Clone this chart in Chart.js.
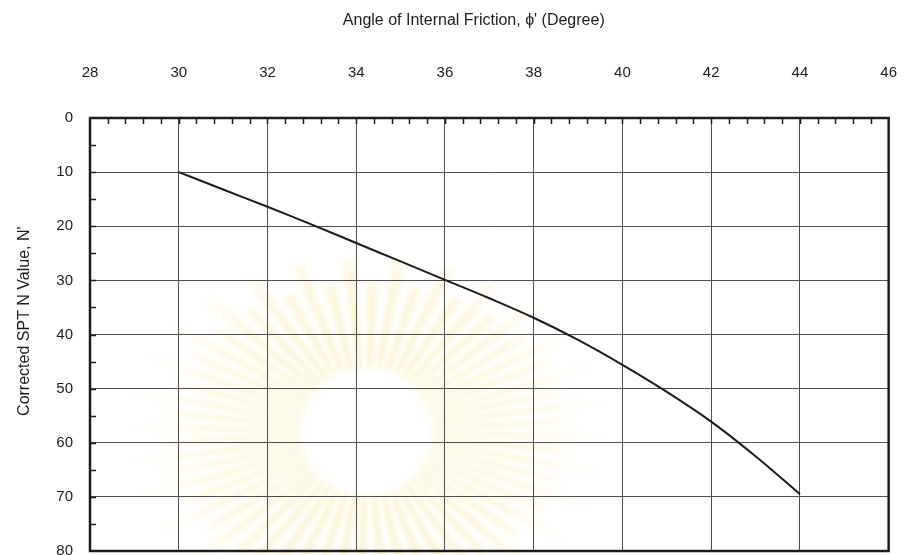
<!DOCTYPE html>
<html>
<head>
<meta charset="utf-8">
<script src="https://cdn.jsdelivr.net/npm/chart.js@4/dist/chart.umd.min.js"></script>
<style>
  html, body { margin: 0; padding: 0; background: #fff; overflow: hidden; }
  #wrap { position: relative; width: 933px; height: 577px; }
</style>
</head>
<body>
<div id="wrap"><canvas id="chart"></canvas></div>
<script>
// curve: angle of internal friction vs corrected SPT N
const angleDeg = [30, 31, 32, 33, 34, 35, 36, 37, 38, 39, 40, 41, 42, 43, 44];
const nValue = [10, 13.2, 16.4, 19.7, 23.1, 26.5, 29.9, 33.3, 36.9, 41, 45.6, 50.6, 56.1, 62.5, 69.5];

const xMin = 28, xMax = 46, xStep = 2, xMinorStep = 0.4;
const yMin = 0, yMax = 80, yStep = 10, yMinorStep = 5;

// trailing / leading spaces nudge the centred titles like the scan
const xTitle = "Angle of Internal Friction, \u03d5' (Degree)       ";
const yTitle = "      Corrected SPT N Value, N'";

const inkColor = '#1c1c1c';
const gridColor = '#4e4e4e';

// faint sunburst watermark behind the plot
const watermark = {
    id: 'watermark',
    beforeDraw(chart) {
        const ctx = chart.ctx;
        const cx = 367, cy = 432;
        const rx = 245, ry = 175;
        ctx.save();
        ctx.filter = 'blur(2.5px)';
        const rays = 60;
        for (let i = 0; i < rays; i++) {
            const a0 = (i / rays) * Math.PI * 2;
            const a1 = a0 + (Math.PI * 2 / rays) * 0.55;
            const len = i % 2 ? 0.85 : 1;
            const g = ctx.createRadialGradient(cx, cy, 55, cx, cy, rx);
            g.addColorStop(0, 'rgba(246, 224, 140, 0.45)');
            g.addColorStop(0.55, 'rgba(248, 230, 160, 0.3)');
            g.addColorStop(1, 'rgba(255, 245, 210, 0)');
            ctx.fillStyle = g;
            ctx.beginPath();
            ctx.moveTo(cx, cy);
            ctx.lineTo(cx + Math.cos(a0) * rx * len, cy + Math.sin(a0) * ry * len);
            ctx.lineTo(cx + Math.cos(a1) * rx * len, cy + Math.sin(a1) * ry * len);
            ctx.closePath();
            ctx.fill();
        }
        ctx.filter = 'blur(4px)';
        ctx.fillStyle = '#fff';
        ctx.beginPath();
        ctx.ellipse(cx, cy, 66, 64, 0, 0, Math.PI * 2);
        ctx.fill();
        ctx.restore();
    }
};

// frame and inward minor ticks
const frame = {
    id: 'frame',
    afterDatasetsDraw(chart) {
        const ctx = chart.ctx;
        const area = chart.chartArea;
        const xs = chart.scales.x, ys = chart.scales.y;
        ctx.save();
        ctx.strokeStyle = inkColor;
        ctx.lineWidth = 1.5;
        const nx = Math.round((xMax - xMin) / xMinorStep);
        ctx.beginPath();
        for (let i = 1; i < nx; i++) {
            const px = Math.round(xs.getPixelForValue(xMin + i * xMinorStep)) + 0.5;
            ctx.moveTo(px, area.top);
            ctx.lineTo(px, area.top + 6);
        }
        const ny = Math.round((yMax - yMin) / yMinorStep);
        for (let i = 1; i < ny; i++) {
            const py = Math.round(ys.getPixelForValue(yMin + i * yMinorStep)) + 0.5;
            ctx.moveTo(area.left, py);
            ctx.lineTo(area.left + 6, py);
        }
        ctx.stroke();
        ctx.lineWidth = 2.5;
        ctx.strokeRect(area.left, area.top, area.right - area.left, area.bottom - area.top);
        ctx.restore();
    }
};

const ctx = document.getElementById('chart').getContext('2d');
new Chart(ctx, {
    type: 'line',
    data: {
        datasets: [{
            label: 'N',
            data: angleDeg.map((a, i) => ({ x: a, y: nValue[i] })),
            borderColor: inkColor,
            borderWidth: 2,
            pointRadius: 0,
            tension: 0.35,
            fill: false
        }]
    },
    options: {
        responsive: true,
        maintainAspectRatio: false,
        animation: false,
        layout: { padding: { left: 0, right: 18, top: 0, bottom: 0 } },
        plugins: {
            legend: { display: false },
            tooltip: { enabled: false }
        },
        scales: {
            x: {
                type: 'linear',
                position: 'top',
                min: xMin,
                max: xMax,
                afterFit(scale) { scale.height = 118; },
                ticks: {
                    stepSize: xStep,
                    padding: 36,
                    color: inkColor,
                    font: { family: 'Liberation Sans', size: 15 }
                },
                grid: { color: gridColor, lineWidth: 1, drawTicks: false },
                border: { display: false },
                title: {
                    display: true,
                    text: xTitle,
                    color: inkColor,
                    padding: { top: 11, bottom: 0 },
                    font: { family: 'Liberation Sans', size: 16 }
                }
            },
            y: {
                type: 'linear',
                reverse: true,
                min: yMin,
                max: yMax,
                afterFit(scale) { scale.width = 90; },
                ticks: {
                    stepSize: yStep,
                    padding: 17,
                    color: inkColor,
                    font: { family: 'Liberation Sans', size: 15 }
                },
                grid: { color: gridColor, lineWidth: 1, drawTicks: false },
                border: { display: false },
                title: {
                    display: true,
                    text: yTitle,
                    color: inkColor,
                    padding: { top: 15, bottom: 0 },
                    font: { family: 'Liberation Sans', size: 16 }
                }
            }
        }
    },
    plugins: [watermark, frame]
});
</script>
</body>
</html>
